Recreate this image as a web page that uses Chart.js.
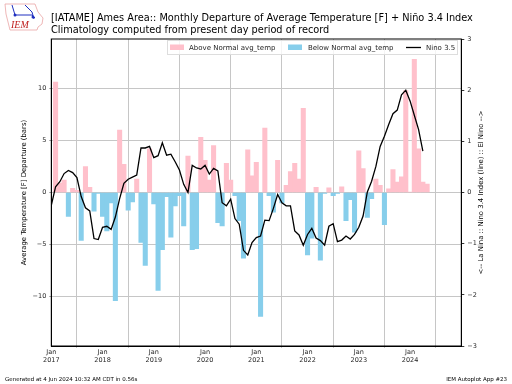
<!DOCTYPE html>
<html>
<head>
<meta charset="utf-8">
<script src="https://cdn.jsdelivr.net/npm/chart.js@4"></script>
<style>
    html, body { margin: 0; padding: 0; background: #fff; }
    #caixa { position: relative; width: 512px; height: 384px; }
    #logo { position: absolute; left: 0; top: 0; }
</style>
</head>
<body>
<div id="caixa">
    <canvas id="myChartCanvas1" width="512" height="384"></canvas>
    <svg id="logo" width="46" height="34">
        <path d="M5 4 L35 4 L38 12 L43 18 L42 24 L38 27 L37 30 L10 30 L8 22 L6 14 Z" fill="#fff" stroke="#eaa4a4" stroke-width="0.8"/>
        <path d="M12 5 L15 15 L32 15 L35 18 M25 5 L32 12 L34 19" fill="none" stroke="#2030c0" stroke-width="1"/>
        <circle cx="15" cy="15" r="1.5" fill="#2030c0"/>
        <circle cx="33" cy="17" r="1.5" fill="#2030c0"/>
        <text x="11" y="28" font-family="Liberation Serif" font-style="italic" font-size="10" fill="#c02020">IEM</text>
    </svg>
</div>
<script>
// departure of average temperature [F], one value per month
const departure = [
    10.6, 0.9, 1.2, -2.3, 0.4, 0.2, -4.6, 2.5, 0.5, -1.8, -0.1, -2.3,
    -3.7, -1, -10.4, 6, 2.7, -1.7, -0.9, 1.3, -4.8, -7, 4.2, -1.1,
    -9.4, -5.5, -0.4, -4.3, -1.3, -0.3, -3.2, 3.5, -5.5, -5.4, 5.3, 3.1,
    1.2, 4.5, -2.9, -3.2, 2.8, 1.2, -0.3, -2.7, -6.3, 4.1, 1.6, 2.9,
    -11.9, 6.2, -0.3, -1.9, 3.1, -1, 0.7, 2, 2.8, 1.3, 8.1, -6,
    -4.4, 0.5, -6.5, -0.1, 0.45, -0.3, -0.1, 0.55, -2.7, -0.7, -3.8, 4,
    2.3, -2.4, -0.6, 1.3, 0.7, -3.1, 0.35, 2.2, 1, 1.5, 9.8, 0.05,
    12.8, 4.2, 1, 0.8
];

// nino 3.4 index, same months
const nino = [
    -0.25, 0.11, 0.21, 0.37, 0.43, 0.39, 0.29, -0.08, -0.3, -0.36, -0.9, -0.92,
    -0.68, -0.66, -0.72, -0.48, -0.12, 0.18, 0.26, 0.3, 0.34, 0.87, 0.87, 0.9,
    0.68, 0.72, 0.97, 0.73, 0.75, 0.6, 0.44, 0.16, 0, 0.53, 0.48, 0.46,
    0.53, 0.36, 0.47, 0.42, -0.2, -0.26, -0.13, -0.51, -0.62, -1.13, -1.22, -0.98,
    -0.88, -0.85, -0.54, -0.55, -0.31, -0.04, -0.2, -0.26, -0.26, -0.75, -0.83, -1.03,
    -0.82, -0.7, -0.89, -0.94, -1.03, -0.66, -0.61, -0.96, -0.93, -0.85, -0.91, -0.82,
    -0.68, -0.46, 0.01, 0.22, 0.51, 0.9, 1.1, 1.33, 1.54, 1.61, 1.91, 2,
    1.79, 1.51, 1.23, 0.81
];

const labelAnos = ["2017", "2018", "2019", "2020", "2021", "2022", "2023", "2024"];

const titulo1 = "[IATAME] Ames Area:: Monthly Departure of Average Temperature [F] + Niño 3.4 Index";
const titulo2 = "Climatology computed from present day period of record";
const tituloDireita = "<-- La Nina :: Nino 3.4 Index (line) :: El Nino -->";
const rodapeEsq = "Generated at 4 Jun 2024 10:32 AM CDT in 0.56s";
const rodapeDir = "IEM Autoplot App #23";

const FONTE = "'DejaVu Sans'";

function menos(valor) {
    return String(valor).replace("-", "\u2212");
}

// titulo, rodape, moldura e legenda desenhados a mao
const extras = {
    id: "extras",
    afterDatasetsDraw(chart) {
        const ctx = chart.ctx;
        const area = chart.chartArea;
        ctx.save();

        ctx.strokeStyle = "#000";
        ctx.lineWidth = 1;
        ctx.strokeRect(area.left, area.top, area.right - area.left, area.bottom - area.top);

        ctx.fillStyle = "#000";
        ctx.textBaseline = "alphabetic";
        ctx.textAlign = "left";
        ctx.font = `9.75px ${FONTE}`;
        ctx.fillText(titulo1, 51, 21);
        ctx.fillText(titulo2, 51, 33);

        ctx.font = `5.5px ${FONTE}`;
        ctx.fillText(rodapeEsq, 5, 381);
        ctx.textAlign = "right";
        ctx.fillText(rodapeDir, 507, 381);

        // eixo direito: texto de baixo para cima
        ctx.save();
        ctx.translate(481, (area.top + area.bottom) / 2);
        ctx.rotate(-Math.PI / 2);
        ctx.textAlign = "center";
        ctx.textBaseline = "middle";
        ctx.font = `6.9px ${FONTE}`;
        ctx.fillStyle = "#000";
        ctx.fillText(tituloDireita, 0, 0);
        ctx.restore();

        // legenda
        ctx.fillStyle = "rgba(255,255,255,0.8)";
        ctx.strokeStyle = "#ddd";
        ctx.fillRect(167.5, 40.5, 290, 14);
        ctx.strokeRect(167.5, 40.5, 290, 14);

        ctx.textAlign = "left";
        ctx.textBaseline = "middle";
        ctx.font = `7px ${FONTE}`;
        ctx.fillStyle = "pink";
        ctx.fillRect(168 + 2, 44.5, 14, 5.5);
        ctx.fillStyle = "skyblue";
        ctx.fillRect(288, 44.5, 14, 5.5);
        ctx.strokeStyle = "#000";
        ctx.lineWidth = 1.3;
        ctx.beginPath();
        ctx.moveTo(406, 47.5);
        ctx.lineTo(421, 47.5);
        ctx.stroke();
        ctx.fillStyle = "#262626";
        ctx.fillText("Above Normal avg_temp", 189, 48);
        ctx.fillText("Below Normal avg_temp", 308, 48);
        ctx.fillText("Nino 3.5", 426, 48);

        ctx.restore();
    }
};

const dados = {
    datasets: [
        {
            type: "line",
            label: "Nino 3.5",
            data: nino.map((v, i) => ({ x: i, y: v })),
            yAxisID: "y2",
            borderColor: "#000",
            borderWidth: 1.3,
            pointRadius: 0,
            tension: 0,
            order: 0
        },
        {
            type: "bar",
            label: "Above Normal avg_temp",
            data: departure.map((v, i) => ({ x: i + 1, y: v > 0 ? v : null })),
            yAxisID: "y",
            backgroundColor: "pink",
            barThickness: 4.4,
            grouped: false,
            order: 1
        },
        {
            type: "bar",
            label: "Below Normal avg_temp",
            data: departure.map((v, i) => ({ x: i + 1, y: v < 0 ? v : null })),
            yAxisID: "y",
            backgroundColor: "skyblue",
            barThickness: 4.4,
            grouped: false,
            order: 1
        }
    ]
};

const config = {
    data: dados,
    plugins: [extras],
    options: {
        responsive: false,
        animation: false,
        layout: { padding: { top: 39, left: 0, right: 0, bottom: 0 } },
        plugins: {
            legend: { display: false },
            title: { display: false },
            tooltip: { enabled: false }
        },
        scales: {
            x: {
                type: "linear",
                min: 0,
                max: 96,
                offset: false,
                grid: { color: "#c6c6c6", lineWidth: 1, tickLength: 2, tickColor: "#c6c6c6" },
                border: { color: "#000" },
                ticks: {
                    stepSize: 12,
                    autoSkip: false,
                    maxRotation: 0,
                    padding: 1,
                    color: "#262626",
                    font: { family: FONTE, size: 6.5, lineHeight: 1.15 },
                    callback: (v) => (labelAnos[v / 12] ? ["Jan", labelAnos[v / 12]] : null)
                },
                afterFit(scale) { scale.height = 38; }
            },
            y: {
                position: "left",
                min: -14.75,
                max: 14.75,
                grid: { color: "#c6c6c6", lineWidth: 1, tickLength: 2, tickColor: "#999" },
                border: { color: "#000" },
                ticks: {
                    stepSize: 5,
                    includeBounds: false,
                    padding: 3,
                    color: "#262626",
                    font: { family: FONTE, size: 6.5 },
                    callback: (v) => menos(v)
                },
                title: {
                    display: true,
                    text: "Average Temperature [F] Departure (bars)",
                    color: "#000",
                    font: { family: FONTE, size: 6.9 },
                    padding: { top: 20, bottom: 0 }
                },
                afterFit(scale) { scale.width = 51.3; }
            },
            y2: {
                position: "right",
                min: -3,
                max: 3,
                grid: { drawOnChartArea: false, tickLength: 3, tickColor: "#333" },
                border: { color: "#000" },
                ticks: {
                    stepSize: 1,
                    padding: 3,
                    color: "#262626",
                    font: { family: FONTE, size: 6.5 },
                    callback: (v) => menos(v)
                },
                afterFit(scale) { scale.width = 50.7; }
            }
        }
    }
};

let myChart = new Chart(document.getElementById("myChartCanvas1"), config);
</script>
</body>
</html>
